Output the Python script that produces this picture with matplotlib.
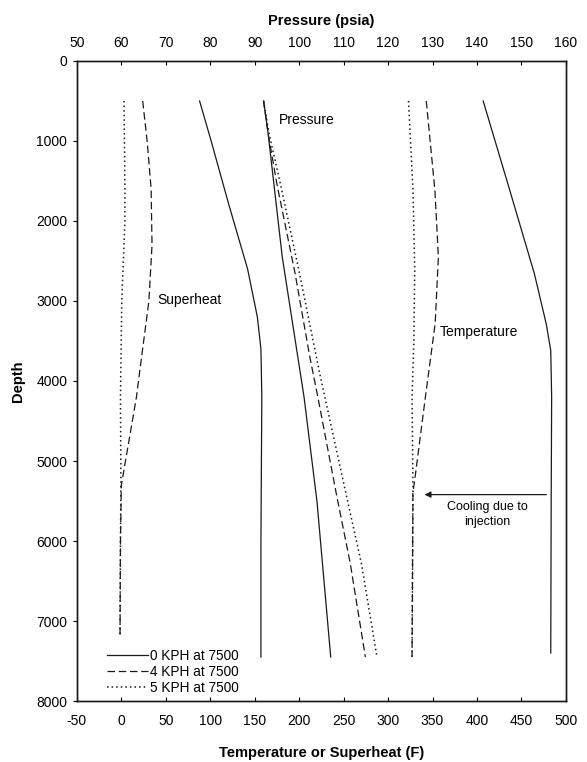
import matplotlib.pyplot as plt

plt.rcParams['font.family'] = ['Liberation Sans', 'DejaVu Sans']
plt.rcParams['axes.unicode_minus'] = False

# depth profiles (ft) for the three injection rates
# superheat (F)
sh_depth_0 = [500, 1000, 1800, 2600, 3200, 3600, 4200, 6000, 7450]
sh_0kph = [88, 101, 121, 142, 153, 157, 158, 157, 157]
sh_depth_4 = [500, 1000, 1600, 2300, 3000, 3850, 4200, 5300, 6000, 7200]
sh_4kph = [24, 29, 33.5, 34.5, 31, 21, 17, 0, -1, -1.5]
sh_depth_5 = [500, 1600, 2000, 3000, 4200, 5300, 6000, 7200]
sh_5kph = [3, 4, 4, 0.5, -1, -0.5, -1, -1.5]

# pressure (psia)
p_depth_0 = [500, 900, 2450, 4200, 5500, 7450]
p_0kph = [92, 93, 96.2, 101.1, 104, 107.1]
p_depth_4 = [500, 900, 1540, 2660, 3700, 4200, 5450, 6280, 7450]
p_4kph = [92, 93, 95, 99.1, 102.4, 104.2, 108.5, 111.5, 114.9]
p_depth_5 = [500, 900, 1540, 2660, 3900, 5400, 6280, 7450]
p_5kph = [92, 93.2, 95.8, 100.1, 104.6, 110.5, 114, 117.5]

# temperature (F)
t_depth_0 = [500, 1620, 2660, 3290, 3620, 4200, 5450, 7400]
t_0kph = [407, 437, 464.6, 478, 483, 484, 483.5, 483]
t_depth_4 = [500, 1620, 2450, 3280, 4200, 5150, 5400, 7450]
t_4kph = [343, 352.7, 356.6, 353, 342, 331, 328, 327]
t_depth_5 = [500, 1600, 2600, 3500, 4200, 5300, 7450]
t_5kph = [323, 328, 330, 329, 327, 328, 327]

legend_labels = ['0 KPH at 7500', '4 KPH at 7500', '5 KPH at 7500']
styles = [dict(ls='-', lw=0.9), dict(ls=(0, (6, 3)), lw=0.9), dict(ls=(0, (1, 2)), lw=1.1)]
ink = '#1a1a1a'

fig = plt.figure(figsize=(5.87, 7.62), dpi=100)
ax = fig.add_axes([0.131, 0.080, 0.833, 0.840])

sh_sets = [(sh_depth_0, sh_0kph), (sh_depth_4, sh_4kph), (sh_depth_5, sh_5kph)]
t_sets = [(t_depth_0, t_0kph), (t_depth_4, t_4kph), (t_depth_5, t_5kph)]
handles = []
for (d, v), st, lab in zip(sh_sets, styles, legend_labels):
    h, = ax.plot(v, d, color=ink, label=lab, **st)
    handles.append(h)
for (d, v), st in zip(t_sets, styles):
    ax.plot(v, d, color=ink, **st)

ax.set_xlim(-50, 500)
ax.set_ylim(8000, 0)
ax.set_xticks(range(-50, 501, 50))
ax.set_yticks(range(0, 8001, 1000))
ax.tick_params(axis='x', direction='in', length=3, labelsize=10, pad=9)
ax.tick_params(axis='y', direction='out', length=3, labelsize=10, pad=4)
ax.set_xlabel('Temperature or Superheat (F)', fontsize=10.5, fontweight='bold', labelpad=13)
ax.set_ylabel('Depth', fontsize=10.5, fontweight='bold', labelpad=8)

# pressure on the top axis
axp = ax.twiny()
p_sets = [(p_depth_0, p_0kph), (p_depth_4, p_4kph), (p_depth_5, p_5kph)]
for (d, v), st in zip(p_sets, styles):
    axp.plot(v, d, color=ink, **st)
axp.set_xlim(50, 160)
axp.set_xticks(range(50, 161, 10))
axp.tick_params(axis='x', direction='in', length=3, labelsize=10, pad=8)
axp.set_xlabel('Pressure (psia)', fontsize=10.5, fontweight='bold', labelpad=8)

for a in (ax, axp):
    for s in a.spines.values():
        s.set_linewidth(1.0)
        s.set_color(ink)

ax.text(177, 735, 'Pressure', fontsize=10, va='center', ha='left')
ax.text(41, 2990, 'Superheat', fontsize=10, va='center', ha='left')
ax.text(358, 3390, 'Temperature', fontsize=10, va='center', ha='left')
ax.annotate('', xy=(341, 5420), xytext=(478, 5420),
            arrowprops=dict(arrowstyle='-|>', color=ink, lw=0.9,
                            mutation_scale=9, shrinkA=0, shrinkB=0))
ax.text(412, 5670, 'Cooling due to\ninjection', fontsize=9, ha='center',
        va='center', linespacing=1.3)

ax.legend(handles=handles, loc='lower left', bbox_to_anchor=(0.061, 0.010),
          frameon=False, fontsize=9.8, handlelength=3.0, handletextpad=0.15,
          labelspacing=0.15, borderpad=0, borderaxespad=0)

fig.savefig('out.png', dpi=100)
